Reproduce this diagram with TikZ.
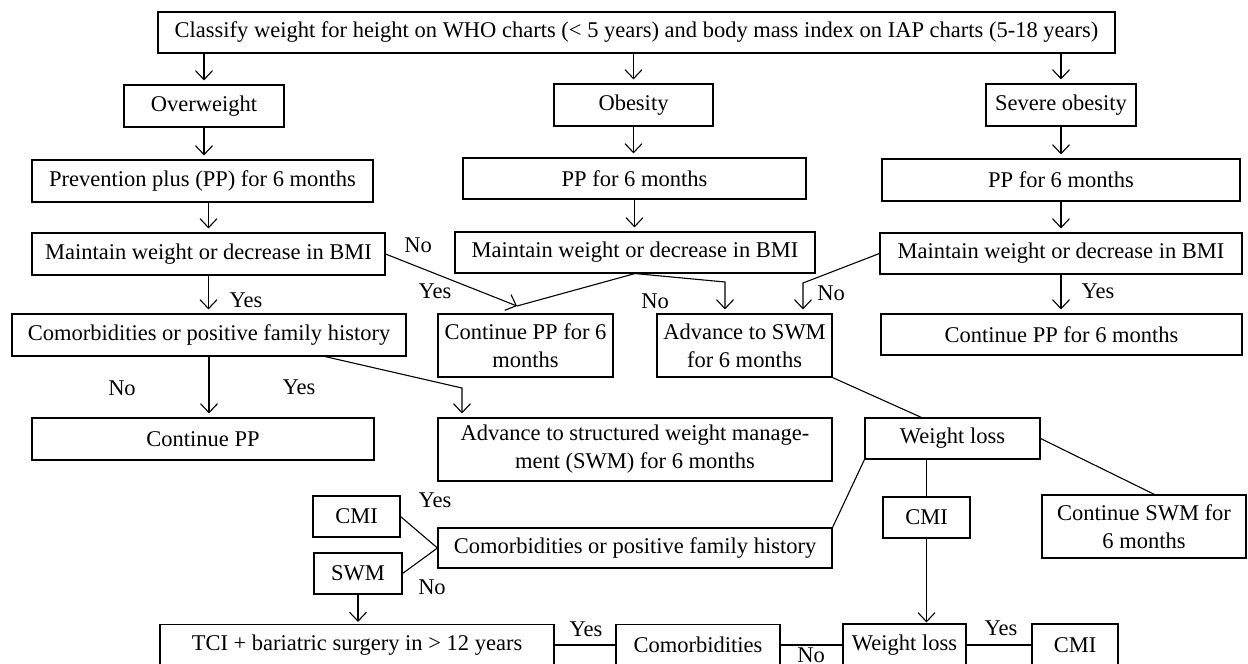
\documentclass[tikz,border=0pt]{standalone}
\usepackage{fontspec}
\setmainfont{Liberation Serif}
\usetikzlibrary{arrows.meta,calc}
\newcommand{\fs}{\fontsize{22.5}{28}\selectfont}
\tikzset{
  box/.style={draw, line width=1.1pt, inner sep=0pt, align=center, font=\fs},
  lbl/.style={inner sep=0pt, font=\fs},
  arr/.style={-{Straight Barb[length=9pt,width=17pt,line width=1.1pt]}, line width=1.1pt, shorten >=4pt},
  ln/.style={line width=1.1pt},
}
\begin{document}
\begin{tikzpicture}[x=1pt,y=-1pt]
\useasboundingbox (0,0) rectangle (1248,664);
% boxes
\node[box, minimum width=957pt, minimum height=41pt] (top) at (636.5,32.5) {Classify weight for height on WHO charts (< 5 years) and body mass index on IAP charts (5-18 years)};
\node[box, minimum width=160pt, minimum height=42pt] (over) at (204,106) {Overweight};
\node[box, minimum width=159pt, minimum height=42pt] (obes) at (633.5,105) {Obesity};
\node[box, minimum width=150pt, minimum height=42pt] (sev) at (1061,105) {Severe obesity};
\node[box, minimum width=341pt, minimum height=42pt] (prev) at (202.5,181) {Prevention plus (PP) for 6 months};
\node[box, minimum width=343pt, minimum height=41pt] (pp2) at (634.5,178.5) {PP for 6 months};
\node[box, minimum width=358pt, minimum height=42pt] (pp3) at (1061,180) {PP for 6 months};
\node[box, minimum width=353pt, minimum height=42pt] (m1) at (208.5,254) {Maintain weight or decrease in BMI};
\node[box, minimum width=360pt, minimum height=41pt] (m2) at (635,252.5) {Maintain weight or decrease in BMI};
\node[box, minimum width=362pt, minimum height=41pt] (m3) at (1061,253.5) {Maintain weight or decrease in BMI};
\node[box, minimum width=394pt, minimum height=42pt] (com1) at (209,335) {Comorbidities or positive family history};
\node[box, minimum width=175pt, minimum height=63pt] (cpp6) at (525.5,345.5) {Continue PP for 6\\months};
\node[box, minimum width=175pt, minimum height=63pt] (adv) at (744.5,345.5) {Advance to SWM\\for 6 months};
\node[box, minimum width=361pt, minimum height=41pt] (cpp3) at (1061.5,334.5) {Continue PP for 6 months};
\node[box, minimum width=342pt, minimum height=42pt] (cpp) at (203,439) {Continue PP};
\node[box, minimum width=394pt, minimum height=63pt] (adv2) at (635,449.5) {Advance to structured weight manage-\\ment (SWM) for 6 months};
\node[box, minimum width=175pt, minimum height=41pt] (wl) at (952.5,438.5) {Weight loss};
\node[box, minimum width=204pt, minimum height=63pt] (csw) at (1144,526.5) {Continue SWM for\\6 months};
\node[box, minimum width=87pt, minimum height=41pt] (cmi1) at (356.5,516.5) {CMI};
\node[box, minimum width=88pt, minimum height=41pt] (swm1) at (358,573.5) {SWM};
\node[box, minimum width=394pt, minimum height=40pt] (com2) at (635,548) {Comorbidities or positive family history};
\node[box, minimum width=87pt, minimum height=41pt] (cmi2) at (926.5,517.5) {CMI};
\node[box, minimum width=394pt, minimum height=41pt] (tci) at (357,645) {TCI + bariatric surgery in > 12 years};
\node[box, minimum width=164pt, minimum height=41pt] (com3) at (698,645) {Comorbidities};
\node[box, minimum width=123pt, minimum height=42pt] (wl2) at (904.5,645) {Weight loss};
\node[box, minimum width=86pt, minimum height=42pt] (cmi3) at (1075,645) {CMI};
% junction coordinates
\coordinate (tipA) at (517,306);
\coordinate (kB) at (725,282);
\coordinate (kC) at (803,283);
\coordinate (kD) at (462,388);
% vertical arrows
\draw[arr] (over.north |- top.south) -- (over.north);
\draw[arr] (obes.north |- top.south) -- (obes.north);
\draw[arr] (sev.north |- top.south) -- (sev.north);
\draw[arr] (over.south) -- (over.south |- prev.north);
\draw[arr] (obes.south) -- (obes.south |- pp2.north);
\draw[arr] (sev.south) -- (sev.south |- pp3.north);
\draw[arr] (m1.north |- prev.south) -- (m1.north);
\draw[arr] (pp2.south) -- (pp2.south |- m2.north);
\draw[arr] (pp3.south) -- (pp3.south |- m3.north);
\draw[arr] (m1.south) -- (m1.south |- com1.north);
\draw[arr] (m3.south) -- (m3.south |- cpp3.north);
\draw[arr] (com1.south) -- (com1.south |- cpp.north);
% diagonal connectors
\draw[arr, shorten >=0pt] (m1.east) -- (tipA);
\draw[ln] (m2.south) -- (tipA);
\draw[arr] (m2.south) -- (kB) -- (kB |- adv.north);
\draw[arr] (m3.west) -- (kC) -- (kC |- adv.north);
\draw[arr] ($(com1.south)+(116,0)$) -- (kD) -- (kD |- adv2.north);
\draw[ln] (adv.south east) -- ($(wl.north west)+(57,0)$);
\draw[ln] (wl.east) -- ($(csw.north west)+(113,0)$);
\draw[ln] (wl.south west) -- (com2.north east);
\draw[ln] (cmi2.north |- wl.south) -- (cmi2.north);
\draw[arr, shorten >=1pt] (cmi2.south) -- (cmi2.south |- wl2.north);
\draw[ln] (cmi1.east) -- (com2.west);
\draw[ln] (swm1.east) -- (com2.west);
\draw[arr, shorten >=2pt] (swm1.south) -- (swm1.south |- tci.north);
\draw[ln] (tci.east) -- (com3.west);
\draw[ln] (com3.east) -- (wl2.west);
\draw[ln] (wl2.east) -- (cmi3.west);
% labels
\node[lbl] (l1) at (418,245) {No};
\node[lbl] (l2) at (435,291) {Yes};
\node[lbl] (l3) at (655,301) {No};
\node[lbl] (l4) at (831,293) {No};
\node[lbl] (l5) at (1098,291) {Yes};
\node[lbl] (l6) at (246,300) {Yes};
\node[lbl] (l7) at (122,388) {No};
\node[lbl] (l8) at (299,387) {Yes};
\node[lbl] (l9) at (435,500) {Yes};
\node[lbl] (l10) at (432,587) {No};
\node[lbl] (l11) at (586,629) {Yes};
\node[lbl] (l12) at (811,655) {No};
\node[lbl] (l13) at (1001,628) {Yes};
\end{tikzpicture}
\end{document}
